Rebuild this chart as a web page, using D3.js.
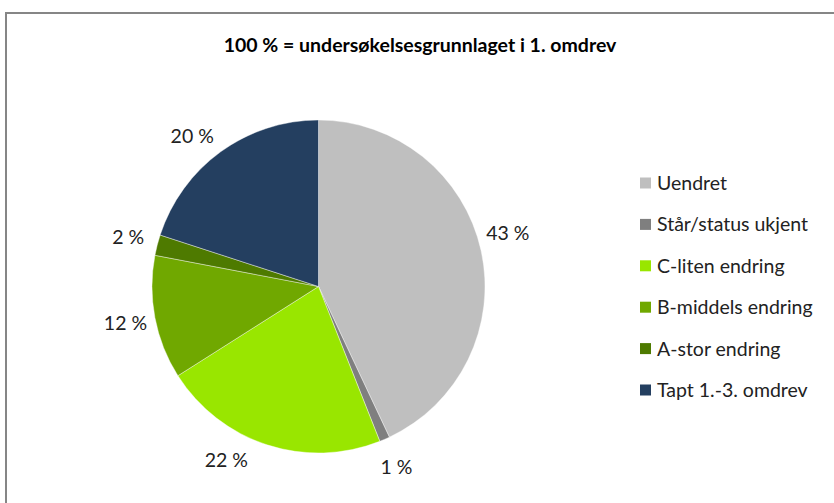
<!DOCTYPE html>
<html>
<head>
<meta charset="utf-8">
<script src="https://cdn.jsdelivr.net/npm/d3@7/dist/d3.min.js"></script>
<style>
  html, body { margin: 0; padding: 0; background: #fff; }
  svg { display: block; }
  text { font-family: Lato, "Open Sans", sans-serif; }
</style>
</head>
<body>
<svg id="chart" width="834" height="503"></svg>
<script>
// Status categories and their share (%) of the survey base
const categories = ["Uendret", "Står/status ukjent", "C-liten endring", "B-middels endring", "A-stor endring", "Tapt 1.-3. omdrev"];
const shares = [43, 1, 22, 12, 2, 20];
const colors = ["#BFBFBF", "#7F7F7F", "#99E600", "#70A800", "#4E7A00", "#243F60"];
const title = "100 % = undersøkelsesgrunnlaget i 1. omdrev";

const data = categories.map((c, i) => ({ name: c, value: shares[i], color: colors[i] }));

const svg = d3.select("#chart");

// chart frame (open to the right and bottom)
svg.append("rect")
  .attr("x", 6).attr("y", 13)
  .attr("width", 860).attr("height", 520)
  .attr("fill", "#fff")
  .attr("stroke", "#868686")
  .attr("stroke-width", 2);

svg.append("text")
  .attr("x", 420).attr("y", 52)
  .attr("text-anchor", "middle")
  .attr("font-size", 19.5)
  .attr("font-weight", "bold")
  .attr("fill", "#000")
  .text(title);

const cx = 318.5, cy = 286.5, R = 166.5;
const g = svg.append("g").attr("transform", `translate(${cx},${cy})`);

const pie = d3.pie().value(d => d.value).sort(null).startAngle(0).endAngle(2 * Math.PI);
const arc = d3.arc().innerRadius(0).outerRadius(R);
const arcs = pie(data);

g.selectAll("path.slice")
  .data(arcs)
  .join("path")
  .attr("class", "slice")
  .attr("d", arc)
  .attr("fill", d => d.data.color)
  .attr("stroke", "#fff")
  .attr("stroke-width", 0.4);

// outside labels, with a best-fit angular shift for crowded slices
const labelShift = { "C-liten endring": 10 * Math.PI / 180, "Tapt 1.-3. omdrev": -4 * Math.PI / 180, "Uendret": -3 * Math.PI / 180 };
const labelR = R + 30;
g.selectAll("text.lbl")
  .data(arcs)
  .join("text")
  .attr("class", "lbl")
  .attr("x", d => {
    const a = (d.startAngle + d.endAngle) / 2 + (labelShift[d.data.name] || 0);
    return labelR * Math.sin(a);
  })
  .attr("y", d => {
    const a = (d.startAngle + d.endAngle) / 2 + (labelShift[d.data.name] || 0);
    return -labelR * Math.cos(a);
  })
  .attr("dy", "0.35em")
  .attr("text-anchor", "middle")
  .attr("font-size", 19.5)
  .attr("fill", "#222")
  .text(d => d.data.value + " %");

// legend
const legendY = d3.scalePoint().domain(categories).range([183, 390]);
const legend = svg.append("g");
const rows = legend.selectAll("g").data(data).join("g")
  .attr("transform", d => `translate(640,${legendY(d.name)})`);
rows.append("rect")
  .attr("x", 0).attr("y", -5.5)
  .attr("width", 11).attr("height", 11)
  .attr("fill", d => d.color);
rows.append("text")
  .attr("x", 17).attr("y", 0)
  .attr("dy", "0.36em")
  .attr("font-size", 19.5)
  .attr("fill", "#222")
  .text(d => d.name);
</script>
</body>
</html>
